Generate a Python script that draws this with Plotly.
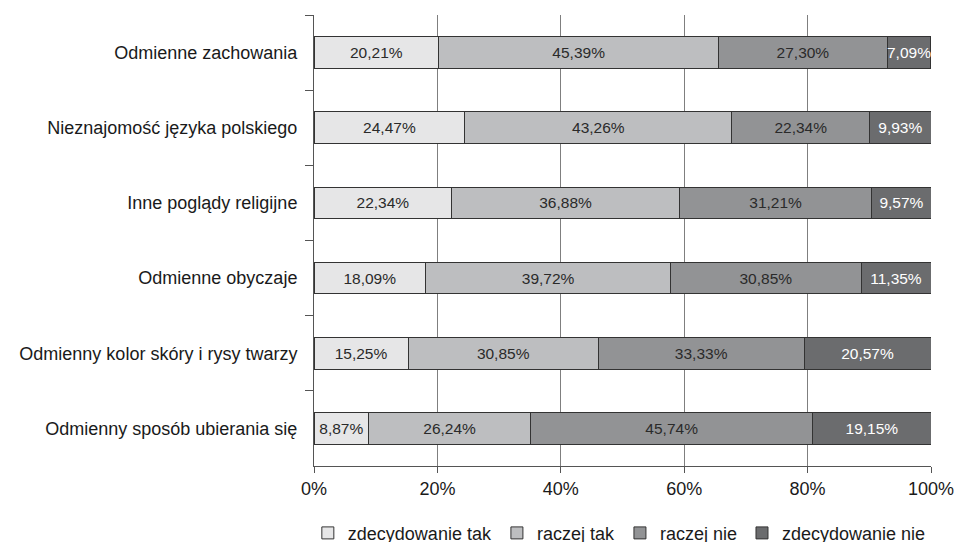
import plotly.graph_objects as go

categories = [
    "Odmienne zachowania",
    "Nieznajomość języka polskiego",
    "Inne poglądy religijne",
    "Odmienne obyczaje",
    "Odmienny kolor skóry i rysy twarzy",
    "Odmienny sposób ubierania się",
]
series_names = ["zdecydowanie tak", "raczej tak", "raczej nie", "zdecydowanie nie"]
zdecydowanie_tak = [20.21, 24.47, 22.34, 18.09, 15.25, 8.87]
raczej_tak = [45.39, 43.26, 36.88, 39.72, 30.85, 26.24]
raczej_nie = [27.30, 22.34, 31.21, 30.85, 33.33, 45.74]
zdecydowanie_nie = [7.09, 9.93, 9.57, 11.35, 20.57, 19.15]
tick_vals = [0, 20, 40, 60, 80, 100]
tick_text = ["0%", "20%", "40%", "60%", "80%", "100%"]

colors = ["#e6e6e7", "#bdbec0", "#929395", "#6b6c6e"]
text_colors = ["#2a2a2a", "#2a2a2a", "#2a2a2a", "#ffffff"]
font = "Liberation Sans, Arial, sans-serif"

fig = go.Figure()
for name, vals, col, tcol in zip(series_names,
                                  [zdecydowanie_tak, raczej_tak, raczej_nie, zdecydowanie_nie],
                                  colors, text_colors):
    fig.add_trace(go.Bar(
        y=categories, x=vals, name=name, orientation="h",
        marker=dict(color=col, line=dict(color="#333333", width=1)),
        text=[f"{v:.2f}%".replace(".", ",") for v in vals],
        textposition="inside", insidetextanchor="middle", textangle=0,
        constraintext="none",
        textfont=dict(family=font, size=15.5, color=tcol),
        width=0.42,
    ))

# page body has an 8px margin, so the figure is sized to fit the window
fig.update_layout(
    barmode="stack",
    width=954, height=534,
    margin=dict(l=306, r=31, t=7, b=76, autoexpand=False),
    plot_bgcolor="white", paper_bgcolor="white",
    font=dict(family=font, size=18, color="#1a1a1a"),
    showlegend=True,
    # x < 0 with left anchor lets the legend span the full row
    legend=dict(orientation="h", x=-0.01, xanchor="left", y=-0.149, yanchor="middle",
                font=dict(size=18), traceorder="normal"),
)
fig.update_xaxes(
    range=[0, 100], tickvals=tick_vals, ticktext=tick_text,
    showgrid=True, gridcolor="#7f7f7f", gridwidth=1,
    showline=True, linecolor="#555555", linewidth=1,
    ticks="outside", ticklen=6, tickcolor="#555555",
    zeroline=False, tickfont=dict(size=18), ticklabelstandoff=0,
)
fig.update_yaxes(
    autorange="reversed", showline=True, linecolor="#555555", linewidth=1,
    ticks="outside", ticklen=8, tickcolor="#555555", tickson="boundaries",
    ticklabelstandoff=12, tickfont=dict(size=18),
)

fig.write_html("out.html")
